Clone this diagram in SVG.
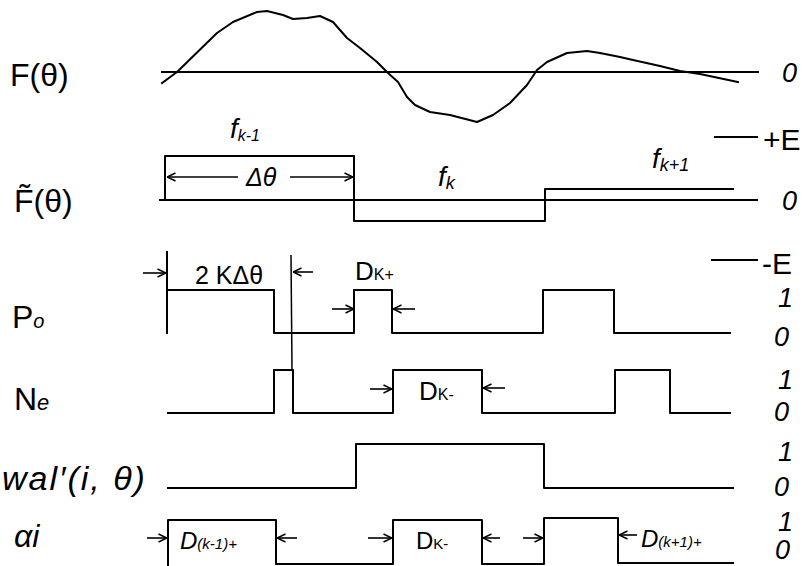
<svg xmlns="http://www.w3.org/2000/svg" width="805" height="566" viewBox="0 0 805 566">
<style>
.ln{fill:none;stroke:#000;stroke-width:2;stroke-linejoin:round;stroke-linecap:square}
.thin{fill:none;stroke:#000;stroke-width:1.5}
.ar{fill:none;stroke:#000;stroke-width:1.6;marker-end:url(#ah)}
text{font-family:"Liberation Sans","DejaVu Sans",sans-serif;fill:#000}
.lbl{font-size:32px}
.val{font-size:27px;font-style:italic}
.mid{font-size:25px}
.sub{font-size:16px}
</style>
<defs>
<marker id="ah" viewBox="0 0 10 10" refX="9.5" refY="5" markerWidth="10" markerHeight="10" markerUnits="userSpaceOnUse" orient="auto">
<path d="M1,1 L9.5,5 L1,9" fill="none" stroke="#000" stroke-width="1.5"/>
</marker>
</defs>
<rect width="805" height="566" fill="#fff"/>

<g id="row-F">
<text class="lbl" x="10" y="86">F(θ)</text>
<line class="ln" x1="162" y1="72" x2="758" y2="72"/>
<polyline class="ln" points="162,83 177,72 217,33 233,22 257,12 267,11 283,15 293,19 307,18 320,16 333,22 347,38 360,48 377,62 388,73 398,82 407,97 415,105 430,112 450,115 477,122 493,115 510,103 527,85 537,70 547,62 567,53 587,51 600,53 620,57 633,60 660,66 680,71 700,74 738,82"/>
<text class="val" x="782" y="82">0</text>
</g>

<g id="row-Ftilde">
<text class="lbl" x="14" y="212">F̃(θ)</text>
<line class="ln" x1="160" y1="200" x2="757" y2="200"/>
<polyline class="ln" points="165,200 165,156 354,156 354,221 545,221 545,189 733,189"/>
<text x="230" y="138" font-size="28" font-style="italic">f<tspan class="sub" font-size="18" dy="3">k-1</tspan></text>
<text class="mid" x="246" y="186" font-style="italic">Δθ</text>
<text x="438" y="186" font-size="28" font-style="italic">f<tspan font-size="18" dy="3">k</tspan></text>
<text x="652" y="168" font-size="28" font-style="italic">f<tspan font-size="18" dy="3">k+1</tspan></text>
<line class="ln" x1="715" y1="137" x2="757" y2="137"/>
<text x="763" y="150" font-size="30">+E</text>
<text class="val" x="782" y="210">0</text>
<line class="ln" x1="712" y1="260" x2="757" y2="260"/>
<text x="762" y="274" font-size="30">-E</text>
</g>

<g id="row-P0">
<text class="lbl" x="12" y="328">P<tspan font-size="20" font-style="italic">o</tspan></text>
<polyline class="ln" points="167,252 167,290 274,290 274,333 354,333 354,290 392,290 392,333 543,333 543,290 614,290 614,333 730,333"/>
<line class="ln" x1="167" y1="290" x2="167" y2="333"/>
<line class="thin" x1="291" y1="255" x2="292" y2="370"/>
<text class="mid" x="195" y="284">2 KΔθ</text>
<text x="355" y="280" font-size="26">D<tspan class="sub">K+</tspan></text>
<text class="val" x="778" y="307">1</text>
<text class="val" x="774" y="346">0</text>
</g>

<g id="row-Ne">
<text class="lbl" x="14" y="410">N<tspan font-size="22" font-style="italic">e</tspan></text>
<polyline class="ln" points="168,413 274,413 274,370 293,370 293,413 393,413 393,370 482,370 482,413 615,413 615,370 670,370 670,413 730,413"/>
<text x="419" y="400" font-size="26">D<tspan class="sub">K-</tspan></text>
<text class="val" x="778" y="389">1</text>
<text class="val" x="774" y="421">0</text>
</g>

<g id="row-wal">
<text x="2" y="490" font-size="34" font-style="italic" letter-spacing="2">wal′(i, θ)</text>
<polyline class="ln" points="168,488 356,488 356,444 544,444 544,488 733,488"/>
<text class="val" x="778" y="461">1</text>
<text class="val" x="774" y="496">0</text>
</g>

<g id="row-alpha">
<text x="14" y="547" font-size="32" font-style="italic">αi</text>
<polyline class="ln" points="168,566 168,520 276,520 276,564 393,564 393,520 482,520 482,564 544,564 544,518 618,518 618,563 733,563"/>
<text x="180" y="549" font-size="24" font-style="italic">D<tspan font-size="15">(k-1)+</tspan></text>
<text x="416" y="549" font-size="24">D<tspan font-size="15">K-</tspan></text>
<text x="641" y="547" font-size="24" font-style="italic">D<tspan font-size="15">(k+1)+</tspan></text>
<text class="val" x="778" y="531">1</text>
<text class="val" x="775" y="559" font-size="25">0</text>
</g>

<g id="connectors">
<line class="ar" x1="238" y1="177" x2="167" y2="177"/>
<line class="ar" x1="290" y1="177" x2="353" y2="177"/>
<line class="ar" x1="143" y1="273" x2="166" y2="273"/>
<line class="ar" x1="313" y1="272" x2="293" y2="272"/>
<line class="ar" x1="332" y1="309" x2="354" y2="309"/>
<line class="ar" x1="415" y1="309" x2="393" y2="309"/>
<line class="ar" x1="370" y1="389" x2="392" y2="389"/>
<line class="ar" x1="505" y1="388" x2="483" y2="388"/>
<line class="ar" x1="147" y1="538" x2="167" y2="538"/>
<line class="ar" x1="297" y1="538" x2="277" y2="538"/>
<line class="ar" x1="368" y1="538" x2="392" y2="538"/>
<line class="ar" x1="500" y1="538" x2="483" y2="538"/>
<line class="ar" x1="523" y1="538" x2="543" y2="538"/>
<line class="ar" x1="637" y1="535" x2="619" y2="535"/>
</g>
</svg>
